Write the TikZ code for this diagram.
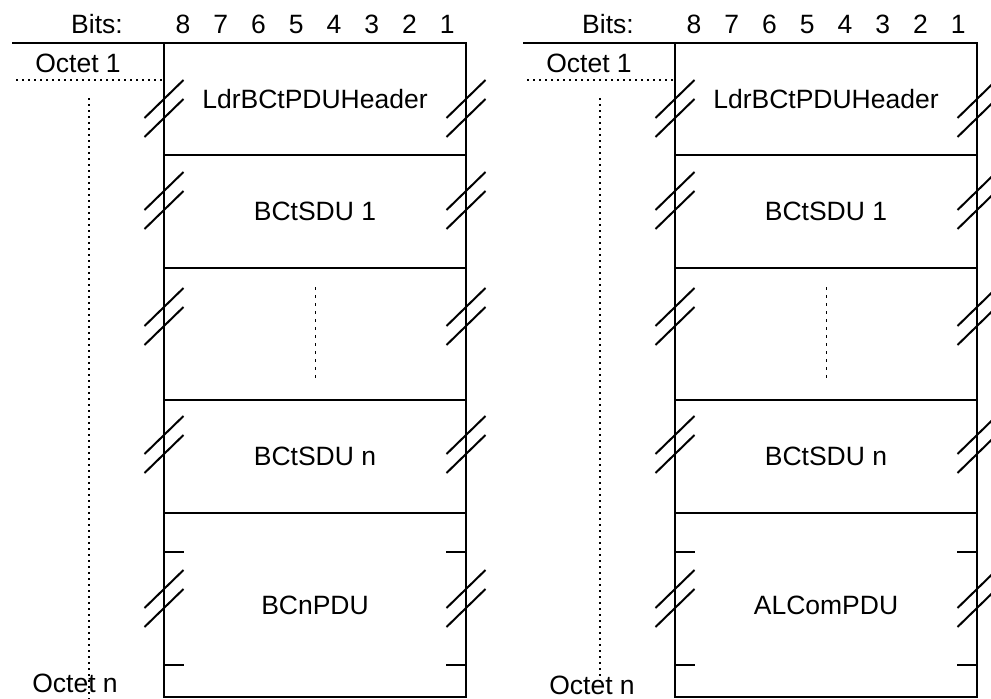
\documentclass[tikz,border=0pt]{standalone}
\usepackage{fontspec}
\setmainfont{Liberation Sans}
\newcommand\slashes[2]{%
  \draw[slashline] (#1) ++(-19.5,#2+19) -- ++(39,-38) ++(-39,57) -- ++(39,-38);}
\newcommand\pduframe[4]{%
  \node[rowbox, minimum height=112pt] (r1) at (164,43) {LdrBCtPDUHeader};
  \node[rowbox, minimum height=113pt] (r2) at (r1.south west) {BCtSDU 1};
  \node[rowbox, minimum height=132pt] (r3) at (r2.south west) {};
  \node[rowbox, minimum height=113pt] (r4) at (r3.south west) {BCtSDU n};
  \node[rowbox, minimum height=184pt] (r5) at (r4.south west) {#1};
  \node[lbl] (bits) at (97,33) {Bits:};
  \foreach \b [count=\i from 0] in {8,7,6,5,4,3,2,1}
    \node[lbl] (b\b) at (182.9+37.75*\i,33.5) {\b};
  \coordinate (tl) at (12,43);
  \draw[solidline] (tl) -- (r1.north west);
  \node[lbl] (o1) at (78,72.5) {Octet 1};
  \node[lbl] (on) at (#2,#3) {Octet n};
  \coordinate (hd) at (16,80);
  \coordinate (hd2) at (164,80);
  \draw[dotline] (hd) -- (hd2);
  \coordinate (vd1) at (89,98);
  \coordinate (vd2) at (89,#4);
  \draw[dotline] (vd1) -- (vd2);
  \draw[fineline] (r3.north) ++(0,19) -- ++(0,95);
  \foreach \n/\d in {r1/56,r2/36,r3/39,r4/35,r5/76}{
    \slashes{\n.north west}{\d}
    \slashes{\n.north east}{\d}
  }
  \draw[solidline] (r5.north west) ++(0,39) -- ++(20,0);
  \draw[solidline] (r5.north west) ++(0,152) -- ++(20,0);
  \draw[solidline] (r5.north east) ++(0,39) -- ++(-20,0);
  \draw[solidline] (r5.north east) ++(0,152) -- ++(-20,0);
}
\begin{document}
\begin{tikzpicture}[x=1pt,y=-1pt,
  lbl/.style={inner sep=0pt, anchor=base, font=\fontsize{26.5}{31}\selectfont},
  rowbox/.style={draw, line width=2pt, minimum width=302pt, inner sep=0pt,
    outer sep=0pt, font=\fontsize{26.5}{31}\selectfont, anchor=north west},
  solidline/.style={line width=2pt},
  dotline/.style={line width=2pt, dash pattern=on 2pt off 4pt},
  fineline/.style={line width=1pt, dash pattern=on 3pt off 5pt},
  slashline/.style={line width=2pt}]
\useasboundingbox (0,0) rectangle (991,699);
\clip (0,0) rectangle (991,699);
\begin{scope}[name prefix=L-]
  \pduframe{BCnPDU}{75}{692.5}{699}
\end{scope}
\begin{scope}[xshift=511pt, name prefix=R-]
  \pduframe{ALComPDU}{81}{694}{686}
\end{scope}
\end{tikzpicture}
\end{document}
